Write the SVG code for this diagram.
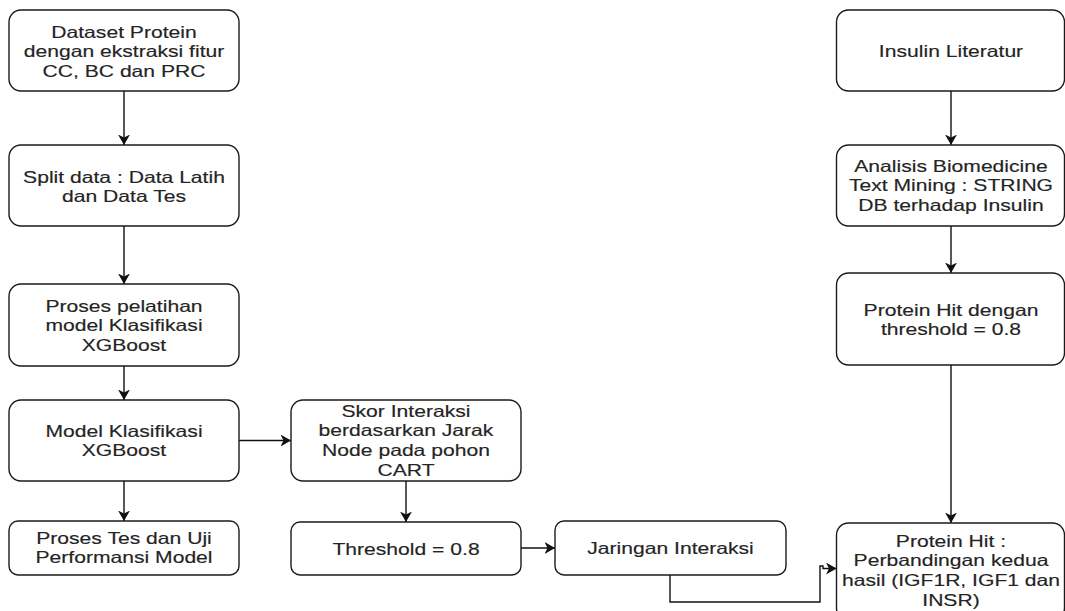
<svg xmlns="http://www.w3.org/2000/svg" width="1065" height="611" viewBox="0 0 1065 611">
  <defs>
    <style>
      .box { fill: #ffffff; stroke: #1a1a1a; stroke-width: 1.4; }
      .lbl { font-family: "Liberation Sans", Arial, sans-serif; font-size: 16.5px; fill: #242424; stroke: #242424; stroke-width: 0.15; text-anchor: middle; }
      .edge { fill: none; stroke: #111111; stroke-width: 1.4; }
    </style>
    <marker id="arrow" viewBox="0 0 11 12" refX="10.5" refY="6" markerWidth="11" markerHeight="12" markerUnits="userSpaceOnUse" orient="auto">
      <path d="M0,0 L10.5,6 L0,12 L3,6 Z" fill="#111111"/>
    </marker>
  </defs>
  <rect width="1065" height="611" fill="#ffffff"/>

  <!-- connectors -->
  <g id="connectors">
    <path class="edge" d="M124,91 V145" marker-end="url(#arrow)"/>
    <path class="edge" d="M124,226 V284" marker-end="url(#arrow)"/>
    <path class="edge" d="M124,366 V400" marker-end="url(#arrow)"/>
    <path class="edge" d="M124,481 V521" marker-end="url(#arrow)"/>
    <path class="edge" d="M239,440.5 H291" marker-end="url(#arrow)"/>
    <path class="edge" d="M406,481 V522" marker-end="url(#arrow)"/>
    <path class="edge" d="M521,548 H555" marker-end="url(#arrow)"/>
    <path class="edge" d="M670,575 V602 H820 V566 H823 V568.5 H836.5" marker-end="url(#arrow)"/>
    <path class="edge" d="M951,91 V145" marker-end="url(#arrow)"/>
    <path class="edge" d="M951,226 V273" marker-end="url(#arrow)"/>
    <path class="edge" d="M951,365 V523" marker-end="url(#arrow)"/>
  </g>

  <!-- left column -->
  <g id="dataset">
    <rect class="box" x="9" y="10" width="230" height="81" rx="12"/>
    <text class="lbl" transform="translate(124,37.5) scale(1.28,1)"><tspan x="0" dy="0">Dataset Protein</tspan><tspan x="0" dy="20">dengan ekstraksi fitur</tspan><tspan x="0" dy="20">CC, BC dan PRC</tspan></text>
  </g>
  <g id="split">
    <rect class="box" x="9" y="145" width="230" height="81" rx="12"/>
    <text class="lbl" transform="translate(124,182.5) scale(1.28,1)"><tspan x="0" dy="0">Split data : Data Latih</tspan><tspan x="0" dy="20">dan Data Tes</tspan></text>
  </g>
  <g id="pelatihan">
    <rect class="box" x="9" y="284" width="230" height="82" rx="12"/>
    <text class="lbl" transform="translate(124,311.5) scale(1.28,1)"><tspan x="0" dy="0">Proses pelatihan</tspan><tspan x="0" dy="20">model Klasifikasi</tspan><tspan x="0" dy="20">XGBoost</tspan></text>
  </g>
  <g id="model">
    <rect class="box" x="9" y="400" width="230" height="81" rx="12"/>
    <text class="lbl" transform="translate(124,436.5) scale(1.28,1)"><tspan x="0" dy="0">Model Klasifikasi</tspan><tspan x="0" dy="20">XGBoost</tspan></text>
  </g>
  <g id="tes">
    <rect class="box" x="9" y="521" width="230" height="54" rx="9"/>
    <text class="lbl" transform="translate(124,543.5) scale(1.28,1)"><tspan x="0" dy="0">Proses Tes dan Uji</tspan><tspan x="0" dy="20">Performansi Model</tspan></text>
  </g>

  <!-- middle column -->
  <g id="skor">
    <rect class="box" x="291" y="400" width="230" height="81" rx="12"/>
    <text class="lbl" transform="translate(406,416.5) scale(1.28,1)"><tspan x="0" dy="0">Skor Interaksi</tspan><tspan x="0" dy="20">berdasarkan Jarak</tspan><tspan x="0" dy="20">Node pada pohon</tspan><tspan x="0" dy="20">CART</tspan></text>
  </g>
  <g id="threshold">
    <rect class="box" x="291" y="522" width="230" height="53" rx="9"/>
    <text class="lbl" transform="translate(406,554.5) scale(1.28,1)">Threshold = 0.8</text>
  </g>
  <g id="jaringan">
    <rect class="box" x="555" y="521" width="231" height="54" rx="9"/>
    <text class="lbl" transform="translate(670.5,554) scale(1.28,1)">Jaringan Interaksi</text>
  </g>

  <!-- right column -->
  <g id="insulin">
    <rect class="box" x="836.5" y="10" width="228" height="81" rx="12"/>
    <text class="lbl" transform="translate(951,57) scale(1.28,1)">Insulin Literatur</text>
  </g>
  <g id="analisis">
    <rect class="box" x="836.5" y="145" width="228" height="81" rx="12"/>
    <text class="lbl" transform="translate(951,171.5) scale(1.28,1)"><tspan x="0" dy="0">Analisis Biomedicine</tspan><tspan x="0" dy="20">Text Mining : STRING</tspan><tspan x="0" dy="20">DB terhadap Insulin</tspan></text>
  </g>
  <g id="proteinhit">
    <rect class="box" x="836.5" y="273" width="228" height="92" rx="12"/>
    <text class="lbl" transform="translate(951,315.5) scale(1.28,1)"><tspan x="0" dy="0">Protein Hit dengan</tspan><tspan x="0" dy="20">threshold = 0.8</tspan></text>
  </g>
  <g id="hasil">
    <rect class="box" x="836.5" y="523" width="228" height="97" rx="12"/>
    <text class="lbl" transform="translate(951,546.5) scale(1.28,1)"><tspan x="0" dy="0">Protein Hit :</tspan><tspan x="0" dy="20">Perbandingan kedua</tspan><tspan x="0" dy="20">hasil (IGF1R, IGF1 dan</tspan><tspan x="0" dy="20">INSR)</tspan></text>
  </g>
</svg>
